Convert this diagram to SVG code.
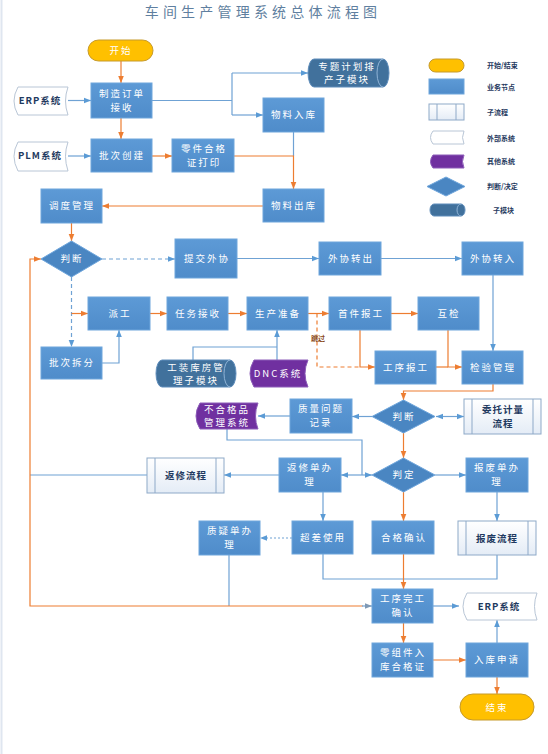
<svg xmlns="http://www.w3.org/2000/svg" width="548" height="754" viewBox="0 0 548 754">
<defs>
<linearGradient id="gb" x1="0" y1="0" x2="0" y2="1"><stop offset="0" stop-color="#5d9ad6"/><stop offset="1" stop-color="#4f8cca"/></linearGradient>
<linearGradient id="gs" x1="0" y1="0" x2="0" y2="1"><stop offset="0" stop-color="#ffffff"/><stop offset="1" stop-color="#e4ecf6"/></linearGradient>
<marker id="ab" viewBox="0 0 10 10" refX="10" refY="5" markerWidth="7" markerHeight="7" orient="auto-start-reverse" markerUnits="userSpaceOnUse"><path d="M0,1 L10,5 L0,9 z" fill="#5b9bd5"/></marker>
<marker id="ao" viewBox="0 0 10 10" refX="10" refY="5" markerWidth="7" markerHeight="7" orient="auto" markerUnits="userSpaceOnUse"><path d="M0,1 L10,5 L0,9 z" fill="#ed7d31"/></marker>
<marker id="ag" viewBox="0 0 10 10" refX="10" refY="5" markerWidth="7" markerHeight="7" orient="auto" markerUnits="userSpaceOnUse"><path d="M0,1 L10,5 L0,9 z" fill="#7f99b5"/></marker>
</defs>
<style>
.t{font-family:"Noto Sans CJK SC","Noto Sans",sans-serif;font-size:9.5px;fill:#ffffff;text-anchor:middle;letter-spacing:2px}
.td{font-family:"Noto Sans CJK SC","Noto Sans",sans-serif;font-size:9.5px;fill:#1f3a60;font-weight:bold;text-anchor:middle;letter-spacing:1px}
.tl{font-family:"Noto Sans CJK SC","Noto Sans",sans-serif;font-size:7px;fill:#1f3a60;font-weight:bold}
.n{fill:url(#gb);stroke:#6fa6dc;stroke-width:1}
.d{fill:#4a86c2;stroke:#6fa6dc;stroke-width:1}
.y{fill:#ffc000;stroke:#c69a2a;stroke-width:1}
.s{fill:url(#gs);stroke:#8ea9c8;stroke-width:1}
.sl{stroke:#8ea9c8;stroke-width:1;fill:none}
.w{fill:#ffffff;stroke:#b9c6d6;stroke-width:1}
.p{fill:#7030a0;stroke:#8c5cb8;stroke-width:1}
.c{fill:#41719c;stroke:#5f8dbb;stroke-width:1}
.cl{fill:none;stroke:#8fb3d6;stroke-width:1}
.lb{fill:none;stroke:#6fa2d4;stroke-width:1.2}
.lo{fill:none;stroke:#ed7d31;stroke-width:1.2}
.dash{stroke-dasharray:4 3}
.dot{stroke-dasharray:2 2}
</style>
<rect x="0" y="0" width="548" height="754" fill="#ffffff"/>
<line x1="1.5" y1="0" x2="1.5" y2="754" stroke="#dfe6f0" stroke-width="2"/>
<text x="263" y="17" font-family="Noto Sans CJK SC, sans-serif" font-size="14" fill="#5f7fa0" text-anchor="middle" letter-spacing="4.2">车间生产管理系统总体流程图</text>

<g id="connectors">
<!-- blue -->
<path class="lb" d="M68,100.5 H91" marker-end="url(#ab)"/>
<path class="lb" d="M68,156 H91" marker-end="url(#ab)"/>
<path class="lb" d="M152,100.5 H232 M232,73 V115"/>
<path class="lb" d="M232,73 H308" marker-end="url(#ab)"/>
<path class="lb" d="M232,115 H263" marker-end="url(#ab)"/>
<path class="lb" d="M293.5,132 V156"/>
<path class="lb dash" d="M102,259 H175" marker-end="url(#ab)"/>
<path class="lb dash" d="M71.5,277 V347" marker-end="url(#ab)"/>
<path class="lb" d="M102,363 H119 V330" marker-end="url(#ab)"/>
<path class="lb" d="M237,258.5 H319" marker-end="url(#ab)"/>
<path class="lb" d="M381,258.5 H462" marker-end="url(#ab)"/>
<path class="lb" d="M493,275 V351" marker-end="url(#ab)"/>
<path class="lb" d="M193,360 V347 H277"/>
<path class="lb" d="M277,360 V330" marker-end="url(#ab)"/>
<path class="lb" d="M372,416.5 H352" marker-end="url(#ab)"/>
<path class="lb" d="M436,416.5 H464" marker-start="url(#ab)" marker-end="url(#ab)"/>
<path class="lb" d="M290,416 H258" marker-end="url(#ab)"/>
<path class="lb" d="M227,429 V440 H362 V475"/>
<path class="lb" d="M372,475 H341" marker-start="url(#ab)" marker-end="url(#ab)"/>
<path class="lb" d="M435,475 H466" marker-end="url(#ab)"/>
<path class="lb" d="M279,475 H224" marker-end="url(#ab)"/>
<path class="lb" d="M147,475 H30"/>
<path class="lb" d="M323,492 V521" marker-end="url(#ab)"/>
<path class="lb dot" d="M292,538 H260" marker-end="url(#ab)"/>
<path class="lb" d="M229,555 V606"/>
<path class="lb" d="M497,492 V521" marker-end="url(#ab)"/>
<path class="lb" d="M323,554 V579 H497 V555"/>
<path class="lb" d="M433,606 H459" marker-end="url(#ab)"/>
<path class="lb" d="M497,643 V620" marker-end="url(#ab)"/>
<!-- orange -->
<path class="lo" d="M121,61 V83" marker-end="url(#ao)"/>
<path class="lo" d="M121,118 V139" marker-end="url(#ao)"/>
<path class="lo" d="M152,156 H172" marker-end="url(#ao)"/>
<path class="lo" d="M234,156 H293.5 V189" marker-end="url(#ao)"/>
<path class="lo" d="M263,206 H102" marker-end="url(#ao)"/>
<path class="lo" d="M71.5,223 V241" marker-end="url(#ao)"/>
<path class="lo" d="M71.5,313.5 H88" marker-end="url(#ao)"/>
<path class="lo" d="M150,313.5 H167" marker-end="url(#ao)"/>
<path class="lo" d="M228,313.5 H247" marker-end="url(#ao)"/>
<path class="lo" d="M308,313.5 H329" marker-end="url(#ao)"/>
<path class="lo" d="M391,313.5 H418" marker-end="url(#ao)"/>
<path class="lo dash" d="M317,313.5 V367 H360"/>
<path class="lo" d="M360,330 V367 H375" marker-end="url(#ao)"/>
<path class="lo" d="M448,330 V367 H462" marker-end="url(#ao)"/>
<path class="lo" d="M436,367 H448"/>
<path class="lo" d="M493,384 V391 H403.5 V400" marker-end="url(#ao)"/>
<path class="lo" d="M403.5,433 V458" marker-end="url(#ao)"/>
<path class="lo" d="M403.5,492 V521" marker-end="url(#ao)"/>
<path class="lo" d="M403.5,554 V589" marker-end="url(#ao)"/>
<path class="lo" d="M363,606 H30 V259 H41" marker-end="url(#ao)" stroke="#eda070"/>
<path class="lb" d="M362,606 H372" marker-end="url(#ag)" stroke="#7f99b5"/>
<path class="lo" d="M403.5,623 V643" marker-end="url(#ao)"/>
<path class="lo" d="M433,660 H466" marker-end="url(#ao)"/>
<path class="lo" d="M497,677 V694" marker-end="url(#ao)"/>
<text x="318" y="341" font-family="Noto Sans CJK SC, sans-serif" font-size="7" font-weight="bold" fill="#8a4a1a" text-anchor="middle">跳过</text>
</g>

<g id="start"><rect class="y" x="88" y="40" width="65" height="21" rx="10.5"/><text class="t" x="121" y="54">开始</text></g>
<g id="erp1"><path class="w" d="M18,87 H68 Q63,101 68,115 H18 Q10,101 18,87 Z"/><text class="td" x="40" y="104" font-size="8.5">ERP系统</text></g>
<g id="plm"><path class="w" d="M18,142 H68 Q63,156 68,171 H18 Q10,156 18,142 Z"/><text class="td" x="40" y="159" font-size="8.5">PLM系统</text></g>
<g id="order"><rect class="n" x="91" y="83" width="61" height="35"/><text class="t" x="122" y="97">制造订单</text><text class="t" x="122" y="111">接收</text></g>
<g id="batch"><rect class="n" x="91" y="139" width="61" height="33"/><text class="t" x="122" y="159">批次创建</text></g>
<g id="cert"><rect class="n" x="172" y="139" width="62" height="33"/><text class="t" x="204" y="152">零件合格</text><text class="t" x="204" y="166">证打印</text></g>
<g id="plan"><path class="c" d="M314,59 H383 A6,14 0 0 1 383,87 H314 A6,14 0 0 1 314,59 Z"/><path class="cl" d="M383,59 A6,14 0 0 0 383,87"/><text class="t" x="347" y="70">专题计划排</text><text class="t" x="347" y="83">产子模块</text></g>
<g id="matin"><rect class="n" x="263" y="98" width="61" height="34"/><text class="t" x="294" y="118">物料入库</text></g>
<g id="matout"><rect class="n" x="263" y="189" width="61" height="33"/><text class="t" x="294" y="209">物料出库</text></g>
<g id="dispatch"><rect class="n" x="41" y="189" width="61" height="34"/><text class="t" x="72" y="209">调度管理</text></g>
<g id="judge1"><path class="d" d="M71.5,241 L102,259 L71.5,277 L41,259 Z"/><text class="t" x="72" y="262">判断</text></g>
<g id="subout"><rect class="n" x="175" y="239" width="62" height="39"/><text class="t" x="207" y="262">提交外协</text></g>
<g id="outgo"><rect class="n" x="319" y="242" width="62" height="33"/><text class="t" x="351" y="262">外协转出</text></g>
<g id="outin"><rect class="n" x="462" y="242" width="61" height="33"/><text class="t" x="493" y="262">外协转入</text></g>
<g id="assign"><rect class="n" x="88" y="297" width="62" height="33"/><text class="t" x="120" y="317">派工</text></g>
<g id="task"><rect class="n" x="167" y="297" width="61" height="33"/><text class="t" x="198" y="317">任务接收</text></g>
<g id="prep"><rect class="n" x="247" y="297" width="61" height="33"/><text class="t" x="278" y="317">生产准备</text></g>
<g id="first"><rect class="n" x="329" y="297" width="62" height="33"/><text class="t" x="361" y="317">首件报工</text></g>
<g id="mutual"><rect class="n" x="418" y="297" width="61" height="33"/><text class="t" x="449" y="317">互检</text></g>
<g id="split"><rect class="n" x="41" y="347" width="61" height="32"/><text class="t" x="72" y="366">批次拆分</text></g>
<g id="tooling"><path class="c" d="M162,360 H230 A6,13.5 0 0 1 230,387 H162 A6,13.5 0 0 1 162,360 Z"/><path class="cl" d="M230,360 A6,13.5 0 0 0 230,387"/><text class="t" x="196" y="371">工装库房管</text><text class="t" x="196" y="384">理子模块</text></g>
<g id="dnc"><path class="p" d="M254,360 H308 Q302,373.5 308,387 H254 Q246,373.5 254,360 Z"/><text class="t" x="278" y="377" letter-spacing="0">DNC系统</text></g>
<g id="oprep"><rect class="n" x="375" y="351" width="61" height="33"/><text class="t" x="406" y="371">工序报工</text></g>
<g id="inspect"><rect class="n" x="462" y="351" width="61" height="33"/><text class="t" x="493" y="371">检验管理</text></g>
<g id="judge2"><path class="d" d="M403.5,400 L435,416.5 L403.5,433 L372,416.5 Z"/><text class="t" x="404" y="420">判断</text></g>
<g id="quality"><rect class="n" x="290" y="399" width="62" height="34"/><text class="t" x="321" y="412">质量问题</text><text class="t" x="321" y="426">记录</text></g>
<g id="ncr"><path class="p" d="M200,403 H258 Q253,416 258,429 H200 Q192,416 200,403 Z"/><text class="t" x="227" y="413">不合格品</text><text class="t" x="227" y="426">管理系统</text></g>
<g id="measure"><rect class="s" x="464" y="399" width="77" height="35"/><path class="sl" d="M472,399 V434 M533,399 V434"/><text class="td" x="503" y="413">委托计量</text><text class="td" x="503" y="427">流程</text></g>
<g id="decide"><path class="d" d="M403.5,458 L435,475 L403.5,492 L372,475 Z"/><text class="t" x="404" y="478">判定</text></g>
<g id="repairform"><rect class="n" x="279" y="458" width="62" height="34"/><text class="t" x="310" y="471">返修单办</text><text class="t" x="310" y="485">理</text></g>
<g id="repairflow"><rect class="s" x="147" y="458" width="77" height="35"/><path class="sl" d="M155,458 V493 M216,458 V493"/><text class="td" x="186" y="479">返修流程</text></g>
<g id="scrapform"><rect class="n" x="466" y="458" width="62" height="34"/><text class="t" x="497" y="471">报废单办</text><text class="t" x="497" y="485">理</text></g>
<g id="doubt"><rect class="n" x="199" y="521" width="61" height="34"/><text class="t" x="230" y="534">质疑单办</text><text class="t" x="230" y="548">理</text></g>
<g id="deviation"><rect class="n" x="292" y="521" width="61" height="33"/><text class="t" x="323" y="541">超差使用</text></g>
<g id="qualified"><rect class="n" x="372" y="521" width="62" height="33"/><text class="t" x="404" y="541">合格确认</text></g>
<g id="scrapflow"><rect class="s" x="458" y="521" width="78" height="34"/><path class="sl" d="M466,521 V555 M528,521 V555"/><text class="td" x="497" y="542">报废流程</text></g>
<g id="opdone"><rect class="n" x="372" y="589" width="61" height="34"/><text class="t" x="403" y="602">工序完工</text><text class="t" x="403" y="616">确认</text></g>
<g id="erp2"><path class="w" d="M467,593 H537 Q532,606.5 537,620 H467 Q459,606.5 467,593 Z"/><text class="td" x="499" y="610" font-size="8.5">ERP系统</text></g>
<g id="partcert"><rect class="n" x="372" y="643" width="61" height="34"/><text class="t" x="403" y="656">零组件入</text><text class="t" x="403" y="670">库合格证</text></g>
<g id="storereq"><rect class="n" x="466" y="643" width="62" height="34"/><text class="t" x="497" y="663">入库申请</text></g>
<g id="end"><rect class="y" x="460" y="694" width="74" height="26" rx="13"/><text class="t" x="497" y="711">结束</text></g>

<g id="legend">
<rect class="y" x="429" y="59" width="35" height="13" rx="6.5"/><text class="tl" x="487" y="68">开始/结束</text>
<rect class="n" x="429" y="79" width="35" height="15"/><text class="tl" x="487" y="90">业务节点</text>
<rect class="s" x="429" y="104" width="35" height="16"/><path class="sl" d="M437,104 V120 M456,104 V120"/><text class="tl" x="487" y="115">子流程</text>
<path class="w" d="M433,131 H464 Q461,137.5 464,144 H433 Q428,137.5 433,131 Z"/><text class="tl" x="487" y="141">外部系统</text>
<path class="p" d="M433,155 H464 Q461,161.5 464,168 H433 Q428,161.5 433,155 Z"/><text class="tl" x="487" y="164">其他系统</text>
<path class="d" d="M446,177 L465,186.5 L446,196 L427,186.5 Z"/><text class="tl" x="487" y="189">判断/决定</text>
<path class="c" d="M434,204 H461 A4,6 0 0 1 461,216 H434 A4,6 0 0 1 434,204 Z"/><path class="cl" d="M461,204 A4,6 0 0 0 461,216"/><text class="tl" x="493" y="213">子模块</text>
</g>
</svg>
